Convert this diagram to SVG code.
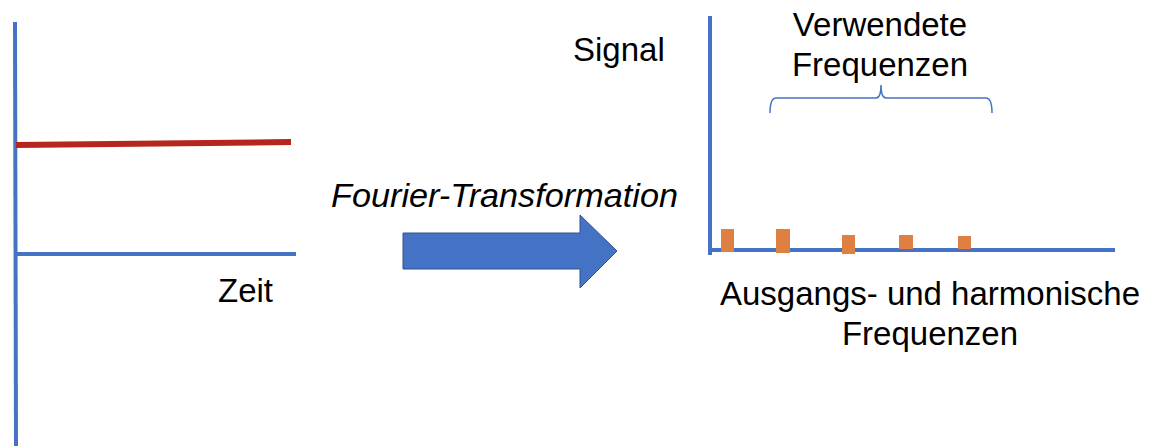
<svg xmlns="http://www.w3.org/2000/svg" width="1159" height="446" viewBox="0 0 1159 446">
<style>
.ax{stroke:#4472C4;stroke-width:4;fill:none}
.t{font-family:"Liberation Sans",Arial,sans-serif;font-size:33px;fill:#000}
.bar{fill:#E07F42}
</style>
<rect width="1159" height="446" fill="#fff"/>
<g id="time-chart">
<line class="ax" x1="15" y1="22" x2="16" y2="446"/>
<line class="ax" x1="16" y1="254" x2="296" y2="254"/>
<line x1="16" y1="145" x2="291" y2="142" stroke="#B5261E" stroke-width="6"/>
<text class="t" x="218" y="302">Zeit</text>
</g>
<g id="transform-arrow">
<text class="t" x="331" y="207" font-style="italic" font-size="34.2" textLength="347" lengthAdjust="spacingAndGlyphs">Fourier-Transformation</text>
<polygon points="403,233 580,233 580,215 617,251 580,288 580,269 403,269" fill="#4472C4" stroke="#2F528F" stroke-width="1"/>
</g>
<g id="freq-chart">
<line class="ax" x1="710" y1="16" x2="710" y2="255"/>
<line class="ax" x1="708" y1="250" x2="1115" y2="250"/>
<rect class="bar" x="721" y="229" width="13" height="23"/>
<rect class="bar" x="776" y="229" width="14" height="24"/>
<rect class="bar" x="842" y="235" width="13" height="19"/>
<rect class="bar" x="899" y="235" width="14" height="14"/>
<rect class="bar" x="958" y="236" width="13" height="13"/>
<text class="t" x="573" y="61">Signal</text>
<path d="M770,113 Q770,98 776,98 L876,98 Q881,98 881,85 Q881,98 886,98 L986,98 Q992,98 992,113" fill="none" stroke="#4472C4" stroke-width="1.5"/>
<text class="t" x="880" y="36" text-anchor="middle">Verwendete</text>
<text class="t" x="880" y="76" text-anchor="middle">Frequenzen</text>
<text class="t" x="930" y="305" text-anchor="middle" font-size="33.6">Ausgangs- und harmonische</text>
<text class="t" x="930" y="345" text-anchor="middle">Frequenzen</text>
</g>
</svg>
